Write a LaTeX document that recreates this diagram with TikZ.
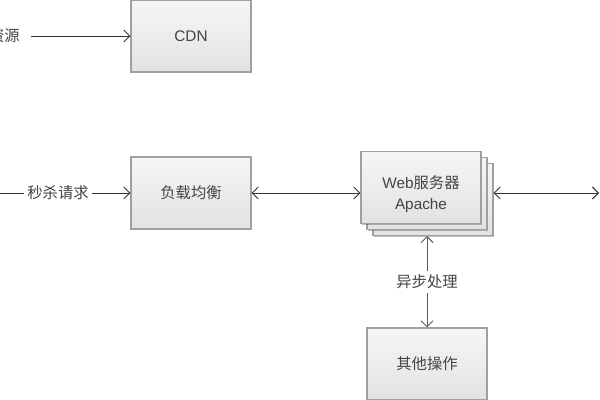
\documentclass[tikz,border=0pt]{standalone}
\usepackage{fontspec}
\setmainfont{Liberation Sans}
\newfontfamily\cjk{Noto Sans CJK SC}
\usetikzlibrary{arrows.meta,shadows}
\definecolor{boxline}{HTML}{A0A0A0}
\definecolor{boxtop}{HTML}{F6F6F6}
\definecolor{boxbot}{HTML}{E2E2E2}
\definecolor{ink}{HTML}{444444}
\definecolor{wire}{HTML}{333333}
\tikzset{
  box/.style={draw=boxline, line width=0.8pt, top color=boxtop, bottom color=boxbot,
    minimum width=90pt, minimum height=54pt, inner sep=0pt, align=center,
    font=\fontsize{11.5}{16}\selectfont, text=ink,
    drop shadow={shadow xshift=0.8pt, shadow yshift=-0.8pt, opacity=0.25, fill=black}},
  boxtext/.style={font=\fontsize{11.5}{16}\selectfont, text=ink, align=center, inner sep=0pt},
  lbl/.style={font=\cjk\fontsize{11.5}{14}\selectfont, text=ink, fill=white, inner sep=2pt},
  wirearrow/.style={draw=wire, line width=0.75pt, -{Straight Barb[length=4.5pt,width=9pt]}},
  wireboth/.style={draw=wire, line width=0.75pt, {Straight Barb[length=4.5pt,width=9pt]}-{Straight Barb[length=4.5pt,width=9pt]}},
}
\begin{document}
\begin{tikzpicture}[x=0.75pt,y=-0.75pt]
\useasboundingbox[fill=white] (0,0) rectangle (600,400);
% nodes
\node[box] (cdn) at (191,36) {CDN};
\node[box] (lb) at (191,193) {{\cjk 负载均衡}};
\node[box] (web3) at (433,199.5) {};
\node[box] (web2) at (427,193.5) {};
\node[box] (web1) at (421,187.5) {};
\node[boxtext] (webtext) at (421,194) {Web{\cjk 服务器}\\Apache};
\node[box] (other) at (427,364) {{\cjk 其他操作}};
% labels
\node[lbl, anchor=east, inner sep=0pt] (static) at (20,36) {静态资源};
\node[lbl] (req) at (58,193) {秒杀请求};
\coordinate (reqstart) at (0,193);
\coordinate (rightend) at (599,193);
\coordinate (webbot) at (427,236);
% connectors
\draw[wirearrow, shorten <=8pt] (static.east) -- (cdn.west);
\draw[draw=wire, line width=0.75pt] (reqstart) -- (req.west);
\draw[wirearrow] (req.east) -- (lb.west);
\draw[wireboth] (lb.east) -- (lb.east -| web1.west);
\draw[wireboth] (web3.east |- rightend) -- (rightend);
\draw[wireboth, draw=wire!80] (webbot) -- node[lbl, inner sep=3pt] (async) {异步处理} (other.north);
\end{tikzpicture}
\end{document}
